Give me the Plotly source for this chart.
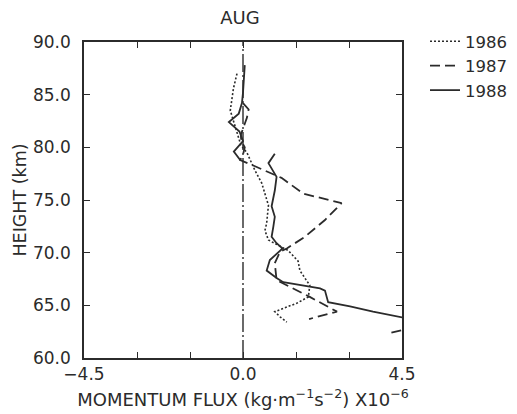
import plotly.graph_objects as go

# ---- data (momentum flux x1e-6, height km) ----
h1986 = [87.0, 85.6, 83.5, 80.2, 79.5, 77.8, 76.6, 75.6, 74.5, 72.8, 72.1, 71.2,
         70.2, 69.2, 68.3, 66.9, 65.8, 65.2, 64.4, 63.9, 63.4]
f1986 = [-0.17, -0.27, -0.36, -0.06, 0.11, 0.34, 0.53, 0.62, 0.72, 0.67, 0.62, 0.72,
         1.28, 1.56, 1.61, 1.89, 1.85, 1.52, 0.90, 1.05, 1.24]

h1987 = [84.2, 83.6, 82.8, 82.0, 81.2, 80.6, 80.0, 79.3, 78.8, 78.2, 77.1, 75.6, 74.7,
         73.1, 71.5, 70.4, 70.1, 69.0, 67.4, 65.8, 64.4, 63.7, None, 62.4, 62.95]
f1987 = [0.0, 0.16, 0.11, 0.02, -0.06, -0.05, 0.05, 0.0, -0.08, 0.34, 1.09, 1.71, 2.79,
         2.32, 1.75, 1.24, 1.05, 0.90, 0.95, 1.89, 2.66, 1.87, None, 4.20, 4.90]

h1988 = [87.8, 86.5, 85.2, 84.2, 83.2, 82.4, 81.5, 80.6, 79.9, 79.6, 78.8, None,
         79.4, 78.5, 77.2, 75.9, 74.4, 73.4, 72.5, 71.5, 70.9, 70.4, 69.3, 68.3,
         67.6, 67.2, 66.6, 66.4, 65.3, 64.9, 64.4, 63.85]
f1988 = [0.05, 0.03, 0.0, -0.03, -0.12, -0.40, -0.10, 0.0, -0.17, -0.26, -0.08, None,
         0.90, 0.72, 0.95, 0.90, 0.81, 0.90, 0.86, 0.81, 0.95, 1.12, 0.76, 0.67,
         0.95, 1.14, 2.18, 2.32, 2.41, 3.03, 3.68, 4.52]

zero_x = [0.0, 0.0]
zero_y = [60.0, 90.0]

x_ticks = [-4.5, -3.0, -1.5, 0.0, 1.5, 3.0, 4.5]
x_ticktext = ["\u22124.5", "", "", "0.0", "", "", "4.5"]
y_ticks = [60, 65, 70, 75, 80, 85, 90]
y_ticktext = ["60.0", "65.0", "70.0", "75.0", "80.0", "85.0", "90.0"]

INK = "#2b2b2b"
FONT = "DejaVu Sans"

# page body has an 8px margin, so the figure is drawn offset by (8, 8)
W, H = 509, 406
L, T, R, B = 76, 34, 115, 56
PW, PH = W - L - R, H - T - B

fig = go.Figure()
fig.add_trace(go.Scatter(x=zero_x, y=zero_y, mode="lines", showlegend=False,
                         line=dict(color=INK, width=1.4, dash="18px,3px,2px,3px"),
                         hoverinfo="skip"))
fig.add_trace(go.Scatter(x=f1986, y=h1986, mode="lines", name="1986",
                         line=dict(color=INK, width=1.6, dash="2px,2px")))
fig.add_trace(go.Scatter(x=f1987, y=h1987, mode="lines", name="1987",
                         line=dict(color=INK, width=1.8, dash="10px,5px")))
fig.add_trace(go.Scatter(x=f1988, y=h1988, mode="lines", name="1988",
                         line=dict(color=INK, width=1.8)))

fig.update_layout(
    width=W, height=H,
    margin=dict(l=L, r=R, t=T, b=B, autoexpand=False),
    paper_bgcolor="white", plot_bgcolor="white",
    font=dict(family=FONT, color=INK, size=16),
    title=dict(text="AUG", x=232 / W, xref="container", xanchor="center",
               y=1 - 10 / H, yref="container", yanchor="middle",
               font=dict(size=18, family=FONT, color=INK)),
    showlegend=True,
    legend=dict(x=(425 - 8 - L) / PW, y=1 + (T - 16) / PH, xanchor="left", yanchor="top",
                font=dict(size=16.5, family=FONT, color=INK),
                bgcolor="rgba(0,0,0,0)", borderwidth=0, tracegroupgap=0),
    xaxis=dict(range=[-4.5, 4.5], tickvals=x_ticks, ticktext=x_ticktext,
               ticks="inside", ticklen=6, tickwidth=1.3, tickcolor=INK,
               showline=True, linecolor=INK, linewidth=1.5, mirror="ticks",
               showgrid=False, zeroline=False, automargin=False,
               tickfont=dict(size=17, family=FONT, color=INK),
               title=dict(text="MOMENTUM FLUX (kg\u00b7m<sup>\u22121</sup>s<sup>\u22122</sup>) X10<sup>\u22126</sup>",
                          standoff=10, font=dict(size=18, family=FONT, color=INK))),
    yaxis=dict(range=[60, 90], tickvals=y_ticks, ticktext=y_ticktext,
               ticks="inside", ticklen=6, tickwidth=1.3, tickcolor=INK,
               showline=True, linecolor=INK, linewidth=1.5, mirror="ticks",
               showgrid=False, zeroline=False, ticklabelstandoff=8, automargin=False,
               tickfont=dict(size=17, family=FONT, color=INK),
               title=dict(text="HEIGHT (km)", standoff=2,
                          font=dict(size=17.5, family=FONT, color=INK))),
)

fig.write_html("out.html")
